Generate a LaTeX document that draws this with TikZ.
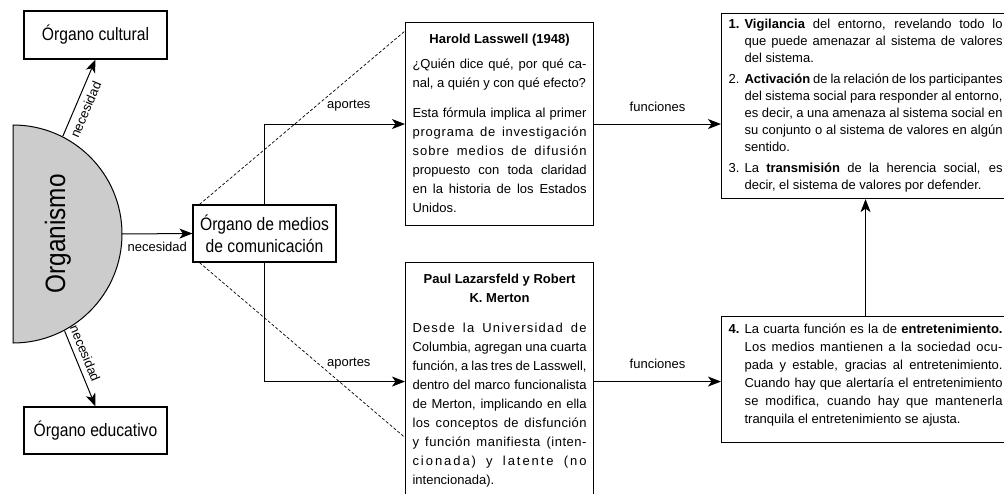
\documentclass[tikz,border=0pt]{standalone}
\usepackage{fontspec}
\setmainfont{Liberation Sans}
\newfontfamily\narrowfont[FakeStretch=0.87]{Liberation Sans}
\usetikzlibrary{arrows.meta}
\newcommand{\espaciado}[2]{{\addfontfeature{LetterSpace=#1}#2}}

\tikzset{
  organo/.style={draw, line width=1.1pt, minimum width=143pt, inner sep=0pt,
    align=center, font=\narrowfont\fontsize{18}{22}\selectfont},
  autor/.style={draw, line width=1.1pt, anchor=north west, inner xsep=7pt,
    inner ysep=0pt, text height=21pt, font=\fontsize{13}{19}\selectfont},
  funcion/.style={draw, line width=1.1pt, anchor=north west, inner xsep=7pt,
    inner ysep=0pt, font=\fontsize{13}{17}\selectfont},
  flecha/.style={line width=1pt, -{Stealth[length=13pt,width=10pt,inset=3.5pt]}},
  etiqueta/.style={font=\fontsize{13}{15}\selectfont},
  guia/.style={line width=0.7pt, dash pattern=on 3pt off 2pt}
}

\begin{document}
\begin{tikzpicture}[x=1pt,y=-1pt]
      \useasboundingbox (0,0) rectangle (1004,494) ;
      % organismo
      \coordinate (org) at (13,234) ;
      \draw[line width=1pt, fill=black!20] (13,125) arc[start angle=90, end angle=-90, radius=109pt] -- cycle ;
      \node[rotate=90, anchor=base, font=\narrowfont\fontsize{28}{28}\selectfont] %
      (orgtxt) at (65,234) {Organismo} ;
      \path (org) ++(63:110pt) coordinate (orgN) ;
      \path (org) ++(-62:110pt) coordinate (orgS) ;
      \path (org) ++(0:109pt) coordinate (orgE) ;
      % organos
      \node[organo, minimum height=48pt] (cult) at (95.5,35) {Órgano cultural} ;
      \node[organo, minimum height=47pt] (edu) at (95.5,430.5) {Órgano educativo} ;
      \node[organo, minimum height=57pt] (medio) at (264.5,233.5) {Órgano de medios\\de comunicación} ;
      \draw[flecha] (orgN) -- (cult.south) node[etiqueta, pos=0.4, sloped, below=2pt] {necesidad} ;
      \draw[flecha] (orgS) -- (edu.north) node[etiqueta, pos=0.35, sloped, above=2pt] {necesidad} ;
      \draw[flecha] (orgE) -- (medio.west) node[etiqueta, midway, below=4pt] {necesidad} ;
      % autores
      \node[autor, text depth=182pt] (lass) at (405,22) {\parbox[t]{174pt}{%
        {\centering\bfseries Harold Lasswell (1948)\par}\vspace{6pt}
        ¿Quién dice qué, por qué ca-\linebreak nal, a quién y con qué efecto?\par\vspace{11pt}
        Esta fórmula implica al primer\linebreak \espaciado{6}{programa de investigación}\linebreak
        \espaciado{8}{sobre medios de difusión}\linebreak propuesto con toda claridad\linebreak
        en la historia de los Estados\linebreak Unidos.}} ;
      \node[autor, text depth=217pt] (laz) at (405,262) {\parbox[t]{174pt}{%
        {\centering\bfseries Paul Lazarsfeld y Robert\\K. Merton\par}\vspace{11pt}
        \espaciado{9}{Desde la Universidad de}\linebreak Columbia, agregan una cuarta\linebreak
        función, a las tres de Lasswell,\linebreak dentro del marco funcionalista\linebreak
        de Merton, implicando en ella\linebreak \espaciado{3}{los conceptos de disfunción}\linebreak
        \espaciado{4}{y función manifiesta (inten-}\linebreak \espaciado{15}{cionada) y latente (no}\linebreak
        intencionada).}} ;
      \draw[flecha] (medio.north) |- (lass.west) node[etiqueta, pos=0.8, above=9pt] {aportes} ;
      \draw[flecha] (medio.south) |- (laz.west) node[etiqueta, pos=0.8, above=9pt] {aportes} ;
      \draw[guia] ([xshift=7pt]medio.north west) -- ([yshift=-9pt]lass.north west) ;
      \draw[guia] ([xshift=7pt]medio.south west) -- ([yshift=-56pt]laz.west) ;
      % funciones
      \node[funcion, text height=15pt, text depth=170pt] (f1) at (721,13) {\parbox[t]{274pt}{%
        \hangindent=16pt\hangafter=1\noindent\makebox[16pt][l]{\textbf{1.}}%
        \textbf{Vigilancia} del entorno, revelando todo lo\linebreak
        que puede amenazar al sistema de valores\linebreak del sistema.\par\vspace{4pt}
        \hangindent=16pt\hangafter=1\noindent\makebox[16pt][l]{2.}%
        \textbf{Activación} de la relación de los participantes\linebreak
        del sistema social para responder al entorno,\linebreak
        es decir, a una amenaza al sistema social en\linebreak
        su conjunto o al sistema de valores en algún\linebreak sentido.\par\vspace{4pt}
        \hangindent=16pt\hangafter=1\noindent\makebox[16pt][l]{3.}%
        La \textbf{transmisión} de la herencia social, es\linebreak
        decir, el sistema de valores por defender.}} ;
      \node[funcion, text height=17pt, text depth=109pt, font=\fontsize{13}{18}\selectfont] %
      (f4) at (721,316) {\parbox[t]{274pt}{%
        \hangindent=16pt\hangafter=1\noindent\makebox[16pt][l]{\textbf{4.}}%
        La cuarta función es la de \textbf{entretenimiento.}\linebreak
        \espaciado{2}{Los medios mantienen a la sociedad ocu-}\linebreak
        pada y estable, gracias al entretenimiento.\linebreak
        Cuando hay que alertaría el entretenimiento\linebreak
        \espaciado{2}{se modifica, cuando hay que mantenerla}\linebreak
        tranquila el entretenimiento se ajusta.}} ;
      \draw[flecha] (lass.east) -- (lass.east -| f1.west) node[etiqueta, midway, above=9pt] {funciones} ;
      \draw[flecha] (laz.east) -- (laz.east -| f4.west) node[etiqueta, midway, above=9pt] {funciones} ;
      \draw[flecha] (f4.north) -- (f1.south) ;
    \end{tikzpicture}
\end{document}
